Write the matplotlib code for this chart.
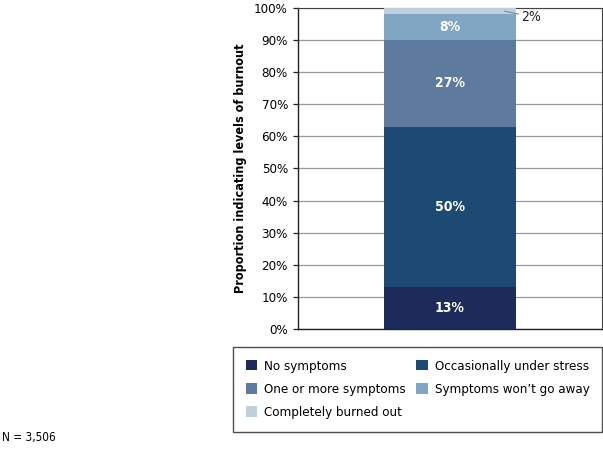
import matplotlib.pyplot as plt
from matplotlib.patches import Patch
from matplotlib import font_manager

# levels of burnout, bottom to top
categories = ['No symptoms', 'Occasionally under stress', 'One or more symptoms',
              "Symptoms won\u2019t go away", 'Completely burned out']
values = [13, 50, 27, 8, 2]
colors = ['#1c2b5a', '#1d4a73', '#5e7a9e', '#80a6c3', '#bdd0dc']
yticks = list(range(0, 101, 10))

names = {f.name for f in font_manager.fontManager.ttflist}
fam = 'Liberation Sans Narrow' if 'Liberation Sans Narrow' in names else 'DejaVu Sans'
plt.rcParams['font.family'] = [fam, 'DejaVu Sans']
plt.rcParams['font.stretch'] = 'condensed'

fig = plt.figure(figsize=(6.03, 4.51), dpi=100)
ax = fig.add_axes([0.494, 0.2705, 0.504, 0.7118])

bottom = 0
for cat, v, c in zip(categories, values, colors):
    ax.bar(0, v, bottom=bottom, width=0.435, color=c, label=cat, zorder=3)
    if v >= 5:
        ax.text(0, bottom + v / 2, f'{v}%', ha='center', va='center',
                color='white', fontsize=10, fontweight='bold', zorder=4)
    bottom += v

# small segment gets an outside label
ax.annotate(f'{values[-1]}%', xy=(0.18, 99), xytext=(0.235, 97.3),
            fontsize=10, va='center', ha='left', color='#222222',
            arrowprops=dict(arrowstyle='-', color='#888888', lw=0.8,
                            shrinkA=0, shrinkB=0))

ax.set_xlim(-0.5, 0.5)
ax.set_ylim(0, 100)
ax.set_yticks(yticks)
ax.set_yticklabels([f'{t}%' for t in yticks], fontsize=9.5)
ax.set_xticks([])
ax.yaxis.grid(True, color='#999999', lw=0.9, zorder=0)
ax.tick_params(axis='y', length=3.6, width=0.9, color='#222222', pad=3.6)
for s in ['left', 'bottom']:
    ax.spines[s].set_color('#222222')
    ax.spines[s].set_linewidth(1.0)
for s in ['top', 'right']:
    ax.spines[s].set_color('#444444')
    ax.spines[s].set_linewidth(0.8)
ax.set_ylabel('Proportion indicating levels of burnout', fontsize=9,
              fontweight='bold', labelpad=5)

# legend reads row by row in the reference; matplotlib fills by column
order = [0, 2, 4, 1, 3]
handles = [Patch(facecolor=colors[i], label=categories[i]) for i in order]
leg = fig.legend(handles=handles, ncol=2, loc='upper left',
                 bbox_to_anchor=(233 / 603, 1 - 430 / 451, 369 / 603, 83 / 451),
                 mode='expand', fontsize=9.5, frameon=True, fancybox=False,
                 handlelength=0.9, handleheight=0.9, handletextpad=0.5,
                 labelspacing=0.78, borderaxespad=0, columnspacing=1.2,
                 borderpad=0.95)
leg.get_frame().set_edgecolor('#222222')
leg.get_frame().set_linewidth(1.0)

fig.text(2 / 603, 1 - 437 / 451, 'N = 3,506', fontsize=8.5, va='center', ha='left')

fig.savefig('out.png', dpi=100)
